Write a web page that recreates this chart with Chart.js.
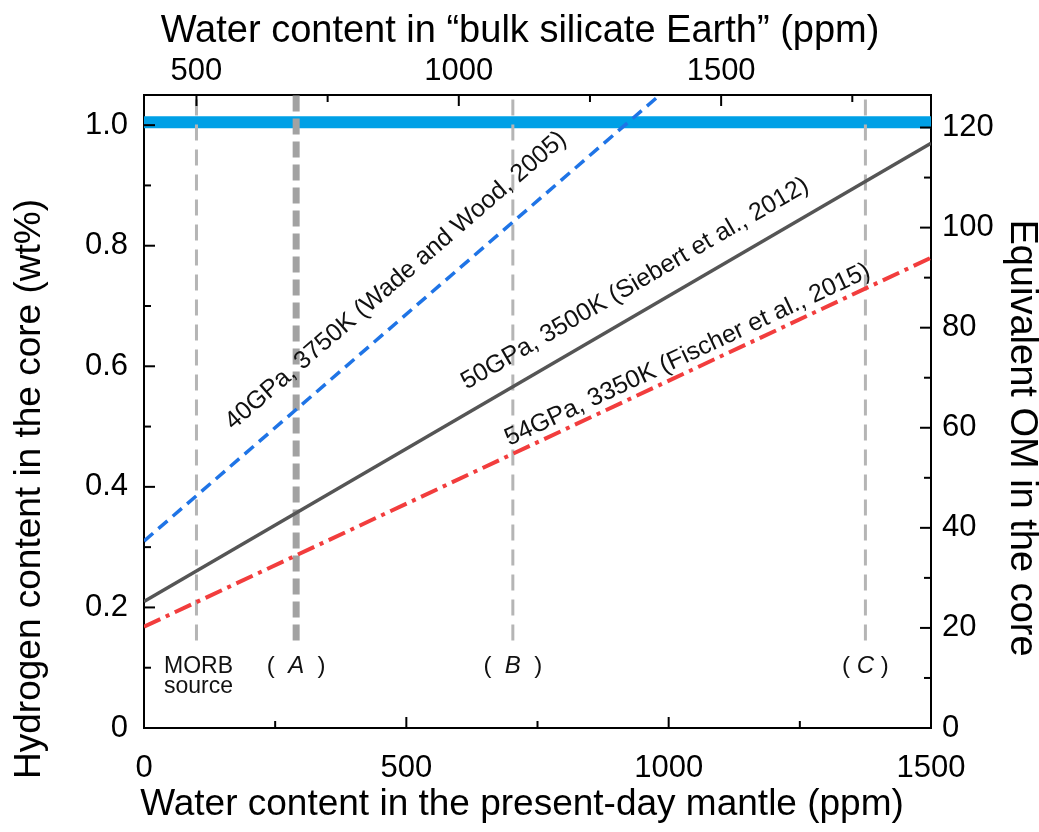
<!DOCTYPE html>
<html>
<head>
<meta charset="utf-8">
<script src="https://cdn.jsdelivr.net/npm/chart.js@4.4.1/dist/chart.umd.min.js"></script>
<style>
html,body{margin:0;padding:0;background:#fff;}
#wrap{width:1039px;height:832px;position:relative;}
</style>
</head>
<body>
<div id="wrap"><canvas id="c"></canvas></div>
<script>
// ---------------- data ----------------
const mantleTicks = [0, 250, 500, 750, 1000, 1250, 1500];
const mantleTickLabels = ['0', '', '500', '', '1000', '', '1500'];
const bseTicks = [500, 750, 1000, 1250, 1500, 1750];
const bseTickLabels = ['500', '', '1000', '', '1500', ''];
const hTicks = [0, 0.1, 0.2, 0.3, 0.4, 0.5, 0.6, 0.7, 0.8, 0.9, 1.0];
const hTickLabels = ['0', '', '0.2', '', '0.4', '', '0.6', '', '0.8', '', '1.0'];
const omTicks = [0, 10, 20, 30, 40, 50, 60, 70, 80, 90, 100, 110, 120];
const omTickLabels = ['0', '', '20', '', '40', '', '60', '', '80', '', '100', '', '120'];

// Hydrogen in core (wt%) vs water in present-day mantle (ppm)
const wadeWoodX = [0, 983];
const wadeWoodH = [0.31, 1.05];
const siebertX = [0, 1500];
const siebertH = [0.21, 0.97];
const fischerX = [0, 1500];
const fischerH = [0.168, 0.78];

// vertical reference water contents (ppm, present-day mantle)
const refNames = ['MORB source', 'A', 'B', 'C'];
const refWater = [100, 290, 703, 1375];
const refSpanH = [0.145, 1.05];

// 1 wt% H limit band
const limitX = [0, 1500];
const limitH = [1.005, 1.005];

const seriesLabels = [
  '40GPa, 3750K (Wade and Wood, 2005)',
  '50GPa, 3500K (Siebert et al., 2012)',
  '54GPa, 3350K (Fischer et al., 2015)'
];
// label anchor (centre) in data units
const seriesLabelX = [480, 936, 1036];
const seriesLabelH = [0.742, 0.737, 0.619];

// ---------------- chart ----------------
const FONT = "'Liberation Sans', Arial, Helvetica, sans-serif";
Chart.defaults.font.family = FONT;
Chart.defaults.color = '#000';

const pts = (xs, ys) => xs.map((x, i) => ({x: x, y: ys[i]}));

const datasets = [
  {label: seriesLabels[0], data: pts(wadeWoodX, wadeWoodH), borderColor: '#1f74e6', borderWidth: 3.5, borderDash: [12, 7], order: 1},
  {label: seriesLabels[1], data: pts(siebertX, siebertH), borderColor: '#555555', borderWidth: 3.5, order: 1},
  {label: seriesLabels[2], data: pts(fischerX, fischerH), borderColor: '#f23d3d', borderWidth: 4, borderDash: [18, 6, 4, 6], order: 1}
];
refWater.forEach((w, i) => {
  const isA = refNames[i] === 'A';
  datasets.push({
    label: refNames[i],
    data: pts([w, w], refSpanH),
    borderColor: isA ? '#a2a2a2' : '#b5b5b5',
    borderWidth: isA ? 7 : 3,
    borderDash: isA ? [16, 7] : [16, 9],
    order: 2
  });
});
datasets.push({label: '1 wt%', data: pts(limitX, limitH), borderColor: '#00a0e6', borderWidth: 12, order: 3});
datasets.forEach(d => { d.showLine = true; d.pointRadius = 0; d.pointHoverRadius = 0; d.fill = false; d.tension = 0; d.borderCapStyle = 'butt'; });

const tickFont = {size: 31, family: FONT};

function fixedTicks(values) {
  return function(scale) { scale.ticks = values.map(v => ({value: v})); };
}

const tickSpecs = {
  x: mantleTickLabels, x2: bseTickLabels, y: hTickLabels, y2: omTickLabels
};

const inwardTicks = {
  id: 'inwardTicks',
  afterDatasetsDraw(chart) {
    const ctx = chart.ctx;
    const a = chart.chartArea;
    ctx.save();
    ctx.strokeStyle = '#000';
    ctx.lineWidth = 2;
    ctx.lineCap = 'butt';
    Object.keys(tickSpecs).forEach(id => {
      const s = chart.scales[id];
      const labels = tickSpecs[id];
      s.ticks.forEach((t, i) => {
        const len = labels[i] !== '' ? 11 : 7;
        const p = s.getPixelForValue(t.value);
        ctx.beginPath();
        if (id === 'x') { ctx.moveTo(p, a.bottom); ctx.lineTo(p, a.bottom - len); }
        else if (id === 'x2') { ctx.moveTo(p, a.top); ctx.lineTo(p, a.top + len); }
        else if (id === 'y') { ctx.moveTo(a.left, p); ctx.lineTo(a.left + len, p); }
        else { ctx.moveTo(a.right, p); ctx.lineTo(a.right - len, p); }
        ctx.stroke();
      });
    });
    ctx.restore();
  }
};

const annotations = {
  id: 'annotations',
  afterDatasetsDraw(chart) {
    const ctx = chart.ctx;
    const xs = chart.scales.x, ys = chart.scales.y;
    ctx.save();
    ctx.fillStyle = '#111';
    // series labels, rotated along their lines
    ctx.font = '25px ' + FONT;
    ctx.textAlign = 'center';
    ctx.textBaseline = 'middle';
    for (let i = 0; i < 3; i++) {
      const m = chart.getDatasetMeta(i).data;
      const ang = Math.atan2(m[1].y - m[0].y, m[1].x - m[0].x);
      ctx.save();
      ctx.translate(xs.getPixelForValue(seriesLabelX[i]), ys.getPixelForValue(seriesLabelH[i]));
      ctx.rotate(ang);
      ctx.fillText(seriesLabels[i], 0, 0);
      ctx.restore();
    }
    // reference line labels
    ctx.textBaseline = 'alphabetic';
    const base = ys.getPixelForValue(0.092);
    refNames.forEach((n, i) => {
      const cx = xs.getPixelForValue(refWater[i]);
      if (n === 'MORB source') {
        ctx.font = '23px ' + FONT;
        ctx.textAlign = 'center';
        ctx.fillText('MORB', cx + 2, base);
        ctx.fillText('source', cx + 2, base + 20);
      } else {
        const fN = '24px ' + FONT, fI = 'italic 24px ' + FONT;
        const gap = n === 'C' ? ' ' : '  ';
        ctx.font = fN;
        const wL = ctx.measureText('(' + gap).width;
        const wR = ctx.measureText(gap + ')').width;
        ctx.font = fI;
        const wM = ctx.measureText(n).width;
        let x0 = cx - (wL + wM + wR) / 2;
        ctx.textAlign = 'left';
        ctx.font = fN; ctx.fillText('(' + gap, x0, base);
        ctx.font = fI; ctx.fillText(n, x0 + wL, base);
        ctx.font = fN; ctx.fillText(gap + ')', x0 + wL + wM, base);
      }
    });
    ctx.restore();
  },
  afterDraw(chart) {
    const ctx = chart.ctx;
    ctx.save();
    ctx.fillStyle = '#000';
    ctx.textAlign = 'center';
    ctx.textBaseline = 'middle';
    ctx.font = '37px ' + FONT;
    ctx.fillText('Water content in the present-day mantle (ppm)', 522, 805);
    ctx.font = '38px ' + FONT;
    ctx.fillText('Water content in \u201Cbulk silicate Earth\u201D (ppm)', 520, 32);
    ctx.font = '37px ' + FONT;
    ctx.save(); ctx.translate(30, 489); ctx.rotate(-Math.PI / 2);
    ctx.fillText('Hydrogen content in the core (wt%)', 0, 0); ctx.restore();
    ctx.font = '38px ' + FONT;
    ctx.save(); ctx.translate(1021, 438); ctx.rotate(Math.PI / 2);
    ctx.fillText('Equivalent OM in the core', 0, 0); ctx.restore();
    ctx.restore();
  }
};

const borderOpt = {display: true, color: '#000', width: 2};
const gridOpt = {display: false, drawTicks: false};

new Chart(document.getElementById('c'), {
  type: 'scatter',
  data: {datasets: datasets},
  options: {
    responsive: true,
    maintainAspectRatio: false,
    animation: false,
    events: [],
    layout: {padding: 0},
    plugins: {legend: {display: false}, tooltip: {enabled: false}, title: {display: false}},
    scales: {
      x: {
        type: 'linear', position: 'bottom', min: 0, max: 1500,
        afterBuildTicks: fixedTicks(mantleTicks),
        afterFit: s => { s.height = 104; },
        ticks: {callback: (v, i) => mantleTickLabels[i], font: tickFont, color: '#000', padding: 22, maxRotation: 0, autoSkip: false},
        grid: gridOpt, border: borderOpt
      },
      x2: {
        type: 'linear', position: 'top', min: 400, max: 1900,
        afterBuildTicks: fixedTicks(bseTicks),
        afterFit: s => { s.height = 95; },
        ticks: {callback: (v, i) => bseTickLabels[i], font: tickFont, color: '#000', padding: 5, maxRotation: 0, autoSkip: false},
        grid: gridOpt, border: borderOpt
      },
      y: {
        type: 'linear', position: 'left', min: 0, max: 1.05,
        afterBuildTicks: fixedTicks(hTicks),
        afterFit: s => { s.width = 144; },
        ticks: {callback: (v, i) => hTickLabels[i], font: tickFont, color: '#000', padding: 16, autoSkip: false},
        grid: gridOpt, border: borderOpt
      },
      y2: {
        type: 'linear', position: 'right', min: 0, max: 126.5,
        afterBuildTicks: fixedTicks(omTicks),
        afterFit: s => { s.width = 108; },
        ticks: {callback: (v, i) => omTickLabels[i], font: tickFont, color: '#000', padding: 11, autoSkip: false},
        grid: gridOpt, border: borderOpt
      }
    }
  },
  plugins: [inwardTicks, annotations]
});
</script>
</body>
</html>
